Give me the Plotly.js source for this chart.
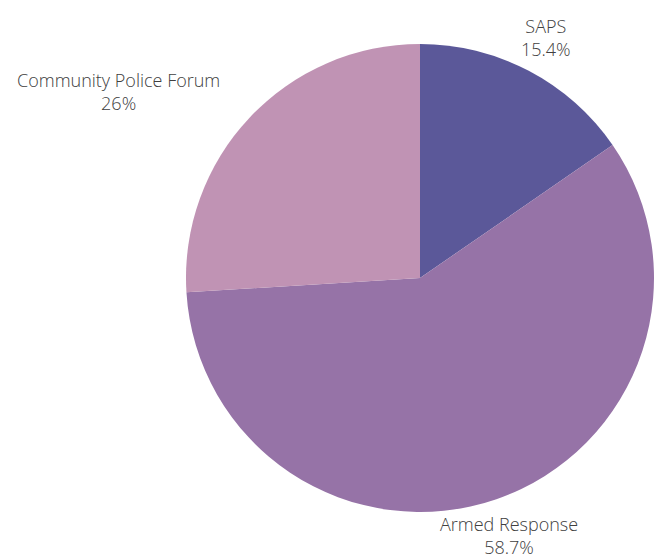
<!DOCTYPE html>
<html>
<head>
<meta charset="utf-8">
<script src="https://cdn.plot.ly/plotly-3.0.1.min.js"></script>
<style>html,body{margin:0;padding:0;background:#fff;}#chart{width:654px;height:557px;}</style>
</head>
<body>
<div id="chart"></div>
<script>
const categories = ["SAPS", "Armed Response", "Community Police Forum"];
const values = [15.4, 58.7, 26];
const colors = ["#5b5899", "#9673a7", "#c093b4"];

const W = 654, H = 557;
const cx = 420, cy = 278, R = 234, labelR = 272;

const trace = {
  type: "pie",
  labels: categories,
  values: values,
  sort: false,
  direction: "clockwise",
  rotation: 0,
  marker: {colors: colors, line: {width: 0}},
  textinfo: "none",
  hoverinfo: "none",
  automargin: false,
  domain: {x: [(cx - R) / W, (cx + R) / W], y: [(H - cy - R) / H, (H - cy + R) / H]}
};

// Label positions along each slice's bisector
const total = values.reduce((a, b) => a + b, 0);
let cum = 0;
const annotations = categories.map((c, i) => {
  const mid = (cum + values[i] / 2) / total * 2 * Math.PI;
  cum += values[i];
  const px = cx + labelR * Math.sin(mid);
  const py = cy - labelR * Math.cos(mid);
  const s = Math.sin(mid);
  const xanchor = Math.abs(s) < 0.5 ? "center" : (s > 0 ? "left" : "right");
  return {
    xref: "paper", yref: "paper",
    x: px / W, y: 1 - py / H,
    xanchor: xanchor, yanchor: "middle",
    text: c + "<br>" + values[i] + "%",
    showarrow: false,
    align: "center",
    font: {family: "Open Sans", size: 18, color: "#404040", weight: 300}
  };
});

const layout = {
  width: W,
  height: H,
  margin: {l: 0, r: 0, t: 0, b: 0},
  showlegend: false,
  paper_bgcolor: "#ffffff",
  font: {family: "Open Sans", size: 18, color: "#404040"},
  annotations: annotations
};

Plotly.newPlot("chart", [trace], layout, {displayModeBar: false, staticPlot: true});
</script>
</body>
</html>
